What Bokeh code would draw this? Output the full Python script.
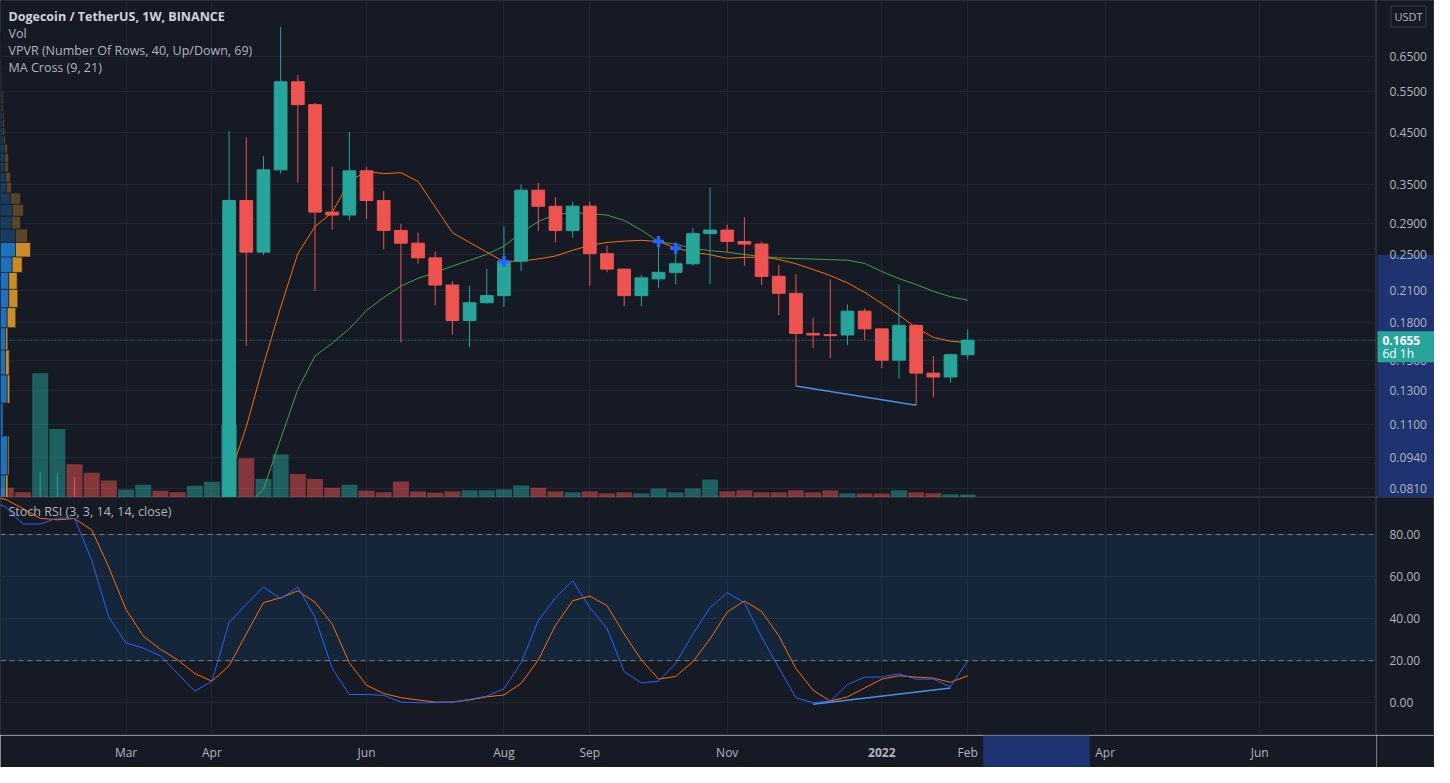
import math
from bokeh.plotting import figure
from bokeh.models import (Range1d, FixedTicker, Span, BoxAnnotation, Label, ColumnDataSource, LinearScale)
from bokeh.layouts import column, row
from bokeh.core.properties import value
from bokeh.embed import file_html
from bokeh.resources import INLINE

# ---------------- data (weekly bars, index 0 = week of 12 Apr 2021) ----------------
weeks = list(range(-14, 44))
opens = [0.0047, 0.0095, 0.0087, 0.0083, 0.0348, 0.0577, 0.0560, 0.0530, 0.0505, 0.0520, 0.0580, 0.0560, 0.0540, 0.0580,
         0.0660, 0.3247, 0.2531, 0.3764, 0.5757, 0.5155, 0.3070, 0.3027, 0.3747, 0.3247, 0.2810, 0.2643, 0.2462, 0.2160,
         0.1820, 0.1983, 0.2052, 0.2423, 0.3413, 0.3157, 0.2810, 0.3160, 0.2512, 0.2332, 0.2052, 0.2225, 0.2296, 0.2393,
         0.2767, 0.2815, 0.2665, 0.2631, 0.2252, 0.2075, 0.1710, 0.1700, 0.1697, 0.1904, 0.1748, 0.1503, 0.1778, 0.1412,
         0.1386, 0.1543]
highs = [0.0107, 0.0107, 0.0099, 0.0876, 0.0874, 0.0857, 0.0665, 0.0590, 0.0540, 0.0640, 0.0630, 0.0585, 0.0640, 0.0720,
         0.4537, 0.4398, 0.4024, 0.7500, 0.5957, 0.5200, 0.3822, 0.4516, 0.3822, 0.3402, 0.2903, 0.2780, 0.2540, 0.2201,
         0.2150, 0.2335, 0.2867, 0.3510, 0.3538, 0.3298, 0.3232, 0.3232, 0.2612, 0.2335, 0.2268, 0.2677, 0.2555, 0.2845,
         0.3456, 0.2889, 0.2995, 0.2660, 0.2379, 0.2276, 0.1840, 0.2218, 0.1967, 0.1930, 0.1748, 0.2167, 0.1790, 0.1534,
         0.1550, 0.1743]
lows = [0.0047, 0.0082, 0.0074, 0.0077, 0.0264, 0.0512, 0.0500, 0.0405, 0.0460, 0.0495, 0.0525, 0.0510, 0.0520, 0.0560,
        0.0610, 0.1610, 0.2497, 0.3700, 0.3540, 0.2100, 0.2822, 0.2949, 0.2967, 0.2564, 0.1637, 0.2396, 0.1958, 0.1702,
        0.1600, 0.1970, 0.1943, 0.2314, 0.2800, 0.2652, 0.2715, 0.2149, 0.2298, 0.1949, 0.1949, 0.2133, 0.2167, 0.2370,
        0.2173, 0.2531, 0.2370, 0.2160, 0.1869, 0.1327, 0.1593, 0.1519, 0.1617, 0.1658, 0.1446, 0.1375, 0.1209, 0.1257,
        0.1348, 0.1509]
closes = [0.0095, 0.0087, 0.0083, 0.0348, 0.0577, 0.0560, 0.0530, 0.0505, 0.0520, 0.0580, 0.0560, 0.0540, 0.0580, 0.0660,
          0.3247, 0.2531, 0.3764, 0.5757, 0.5155, 0.3070, 0.3027, 0.3747, 0.3247, 0.2810, 0.2643, 0.2462, 0.2160, 0.1820,
          0.1983, 0.2052, 0.2423, 0.3413, 0.3157, 0.2810, 0.3160, 0.2512, 0.2332, 0.2052, 0.2236, 0.2296, 0.2393, 0.2767,
          0.2815, 0.2665, 0.2631, 0.2252, 0.2075, 0.1710, 0.1697, 0.1692, 0.1904, 0.1748, 0.1503, 0.1778, 0.1412, 0.1386,
          0.1543, 0.1655]
# volume, billions DOGE
volume = [0.30, 1.00, 0.53, 12.70, 7.00, 3.40, 2.53, 1.73, 0.83, 1.30, 0.70, 0.53, 1.20, 1.60,
          7.43, 4.00, 1.90, 4.40, 2.40, 1.90, 1.00, 1.30, 0.70, 0.53, 1.63, 0.63, 0.50, 0.63,
          0.73, 0.73, 0.83, 1.23, 1.00, 0.63, 0.53, 0.63, 0.43, 0.53, 0.43, 0.93, 0.53, 0.93,
          1.83, 0.63, 0.73, 0.53, 0.53, 0.73, 0.53, 0.73, 0.43, 0.40, 0.40, 0.73, 0.53, 0.43,
          0.33, 0.30]
NA = float("nan")
ma9 = [NA] * 13 + [0.0560, 0.0853, 0.1090, 0.1470, 0.1940, 0.2514, 0.2863, 0.3065, 0.3560, 0.3738, 0.3696, 0.3713,
                   0.3560, 0.3147, 0.2780, 0.2652, 0.2531, 0.2418, 0.2424, 0.2450, 0.2484, 0.2554, 0.2614, 0.2652,
                   0.2669, 0.2679, 0.2664, 0.2580, 0.2531, 0.2500, 0.2456, 0.2467, 0.2473, 0.2443, 0.2393, 0.2328,
                   0.2260, 0.2183, 0.2085, 0.1976, 0.1869, 0.1758, 0.1678, 0.1647, 0.1636]
ma21 = [NA] * 15 + [0.0745, 0.0806, 0.1028, 0.1306, 0.1534, 0.1631, 0.1749, 0.1911, 0.2033, 0.2149, 0.2230, 0.2296,
                    0.2366, 0.2433, 0.2504, 0.2605, 0.2778, 0.2935, 0.3034, 0.3062, 0.3048, 0.3026, 0.2949, 0.2814,
                    0.2664, 0.2627, 0.2579, 0.2549, 0.2531, 0.2502, 0.2479, 0.2462, 0.2454, 0.2448, 0.2441, 0.2435,
                    0.2397, 0.2306, 0.2227, 0.2165, 0.2095, 0.2041, 0.2007]
cross_weeks = [16, 25, 26]
price_trend_weeks = [33, 40]

stoch_k = [97.0, 93.0, 85.0, 85.0, 87.8, 87.7, 67.7, 40.6, 28.4, 26.0, 22.3, 13.9, 5.5, 10.2,
           38.2, 46.8, 55.0, 49.5, 55.0, 40.6, 16.4, 3.9, 3.9, 3.5, 0.3, 0.0, 0.0, 0.3,
           1.6, 3.1, 6.6, 19.0, 39.0, 49.9, 58.0, 45.2, 35.4, 14.8, 9.4, 10.2, 18.8, 32.6,
           45.2, 52.3, 47.6, 31.2, 16.7, 2.3, 0.0, 0.8, 8.6, 12.2, 12.2, 13.7, 11.2, 11.2,
           7.6, 20.0]
stoch_d = [98.0, 96.7, 92.3, 87.7, 87.0, 87.6, 82.2, 64.4, 44.3, 31.7, 25.4, 20.4, 13.9, 10.2,
           17.6, 32.7, 47.6, 49.9, 53.2, 47.8, 37.4, 19.0, 8.3, 4.4, 2.4, 1.3, 0.3, 0.3,
           1.3, 2.8, 3.7, 9.2, 20.3, 36.8, 48.5, 50.7, 46.2, 32.7, 20.4, 11.2, 12.5, 19.5,
           30.3, 43.1, 48.4, 43.4, 31.9, 16.2, 5.9, 0.8, 2.8, 7.0, 11.2, 12.8, 12.2, 11.7,
           9.7, 12.8]
stoch_trend_weeks = [34, 42]
stoch_trend_vals = [-0.7, 7.0]

# VPVR: 40 rows (linear price bins), up / down volume per row
vp_lo, vp_step, vp_rows = 0.0149, 0.01788, 40
vp_up = [3000, 12000, 21000, 500, 700, 270, 670, 500, 500, 670, 830, 830, 1170, 1500,
         1500, 1100, 1200, 1000, 600, 500, 400, 400, 400, 300, 200, 200, 200, 150, 150, 150,
         100, 100, 80, 80, 80, 50, 50, 50, 30, 30]
vp_down = [3000, 12000, 20300, 250, 150, 30, 260, 370, 230, 860, 900, 840, 1000, 1500,
           1200, 900, 1100, 1000, 500, 500, 400, 400, 300, 200, 200, 200, 150, 150, 150, 150,
           100, 100, 70, 70, 70, 50, 50, 50, 20, 20]
vp_value_area_top_row = 13

price_ticks = [0.081, 0.094, 0.11, 0.13, 0.15, 0.18, 0.21, 0.25, 0.29, 0.35, 0.45, 0.55, 0.65]
stoch_ticks = [0, 20, 40, 60, 80]
time_tick_weeks = [-6, -1, 8, 16, 21, 29, 38, 43, 51, 60]
time_tick_labels = ["Mar", "Apr", "Jun", "Aug", "Sep", "Nov", "2022", "Feb", "Apr", "Jun"]
highlight_weeks = (43.9, 50.1)
highlight_price = 0.25
countdown = "6d 1h"

# ---------------- style ----------------
BG = "#161a25"
GRID = "#222632"
SEP = "#2a2e39"
TXT = "#b2b5be"
UP = "#26a69a"
DOWN = "#ef5350"
HL = "#1e3370"
FONT = value("Open Sans")
FRAME_W, AXIS_W = 1376, 58
P_H = 497
S_FRAME, S_AX = 238, 32

x_range = Range1d(-13.31, 66.8)
p_lo, p_hi = 0.0775, 0.852
price_range = Range1d(p_lo, p_hi)
stoch_range = Range1d(-15.6, 97.6)


def base(width, height, xr, yr, y_type="linear", outline=SEP):
    f = figure(width=width, height=height, x_range=xr, y_range=yr, y_axis_type=y_type,
               x_axis_location=None, y_axis_location=None, output_backend="svg", toolbar_location=None,
               min_border=0, background_fill_color=BG, border_fill_color=BG, outline_line_color=outline)
    return f


# ---------------- price pane ----------------
p = base(FRAME_W, P_H, x_range, price_range, "log")
p.extra_y_ranges = {"vol": Range1d(0, max(volume) * 4)}
p.extra_y_scales = {"vol": LinearScale()}
vp_tot = [u + d for u, d in zip(vp_up, vp_down)]
p.extra_x_ranges = {"vp": Range1d(0, max(vp_tot) / 0.30)}
p.extra_x_scales = {"vp": LinearScale()}
p.xgrid.ticker = FixedTicker(ticks=time_tick_weeks)
p.ygrid.ticker = FixedTicker(ticks=price_ticks)
p.xgrid.grid_line_color = GRID
p.ygrid.grid_line_color = GRID

colors = [UP if c >= o else DOWN for o, c in zip(opens, closes)]
src = ColumnDataSource(dict(
    week=weeks, open=opens, high=highs, low=lows, close=closes, vol=volume, color=colors,
    top=[max(o, c) for o, c in zip(opens, closes)], bot=[min(o, c) for o, c in zip(opens, closes)],
    ma9=ma9, ma21=ma21))

p.vbar(x="week", top="vol", bottom=0, width=0.93, source=src, y_range_name="vol",
       fill_color="color", line_color=None, fill_alpha=0.5)

rb = [vp_lo + k * vp_step for k in range(vp_rows)]
rt = [vp_lo + (k + 1) * vp_step for k in range(vp_rows)]
ua = [0.8 if k <= vp_value_area_top_row else 0.3 for k in range(vp_rows)]
p.quad(left=0, right=vp_up, bottom=rb, top=rt, x_range_name="vp",
       fill_color="#1e88e5", fill_alpha=ua, line_color=BG, line_width=0.6)
p.quad(left=vp_up, right=vp_tot, bottom=rb, top=rt, x_range_name="vp",
       fill_color="#f9a825", fill_alpha=ua, line_color=BG, line_width=0.6)

p.line("week", "ma21", source=src, line_color="#43a047", line_width=1)
p.line("week", "ma9", source=src, line_color="#ff6d00", line_width=1)

p.segment(x0="week", y0="low", x1="week", y1="high", source=src, line_color="color", line_width=1)
p.vbar(x="week", top="top", bottom="bot", width=0.74, source=src, fill_color="color", line_color="color")

p.scatter(cross_weeks, [ma9[weeks.index(w)] for w in cross_weeks], marker="cross", size=11,
          line_width=3.5, line_color="#2962ff")
p.line(price_trend_weeks, [lows[weeks.index(w)] for w in price_trend_weeks],
       line_color="#4a90e2", line_width=1.5)
p.add_layout(Span(location=closes[-1], dimension="width", line_color=UP, line_dash="1 2", line_width=1))

legend_lines = ["Dogecoin / TetherUS, 1W, BINANCE", "Vol", "VPVR (Number Of Rows, 40, Up/Down, 69)", "MA Cross (9, 21)"]
for n, t in enumerate(legend_lines):
    p.add_layout(Label(x=8, y=P_H - 16 - 17 * n, x_units="screen", y_units="screen", text=t,
                       text_color="#d1d4dc" if n == 0 else TXT, text_font="Open Sans",
                       text_font_size="12.5px", text_font_style="bold" if n == 0 else "normal",
                       text_baseline="middle"))

# ---------------- price axis strip ----------------
def py(v):
    return P_H * (math.log(v) - math.log(p_lo)) / (math.log(p_hi) - math.log(p_lo))

pa = base(AXIS_W, P_H, Range1d(0, AXIS_W), price_range, "log")
pa.grid.visible = False
pa.extra_y_ranges = {"px": Range1d(0, P_H)}
pa.extra_y_scales = {"px": LinearScale()}
pa.quad(left=1, right=AXIS_W, bottom=p_lo, top=highlight_price, fill_color=HL, line_color=None)
pa.text(x=13, y=price_ticks, text=["%.4f" % t for t in price_ticks], text_font=FONT, text_font_size="12px",
        text_color=TXT, text_baseline="middle", text_align="left")
yc = py(closes[-1])
pa.quad(left=1, right=AXIS_W, bottom=yc - 22, top=yc + 9, y_range_name="px", fill_color=UP, line_color=None)
pa.text(x=[6], y=[yc], text=["%.4f" % closes[-1]], y_range_name="px", text_font=FONT, text_font_size="12px",
        text_font_style="bold", text_color="white", text_baseline="middle", text_align="left")
pa.text(x=[6], y=[yc - 13], text=[countdown], y_range_name="px", text_font=FONT, text_font_size="12px",
        text_color="white", text_baseline="middle", text_align="left")
pa.rect(x=[32], y=[P_H - 16], width=35, height=21, y_range_name="px", fill_color=BG,
        line_color="#363a45", line_width=1)
pa.text(x=[32], y=[P_H - 16], text=["USDT"], y_range_name="px", text_font=FONT, text_font_size="11px",
        text_color=TXT, text_baseline="middle", text_align="center")

# ---------------- Stoch RSI pane ----------------
s = base(FRAME_W, S_FRAME, x_range, stoch_range)
s.xgrid.ticker = FixedTicker(ticks=time_tick_weeks)
s.ygrid.ticker = FixedTicker(ticks=stoch_ticks)
s.xgrid.grid_line_color = GRID
s.ygrid.grid_line_color = GRID
s.add_layout(BoxAnnotation(bottom=20, top=80, fill_color="#2196f3", fill_alpha=0.1, line_color=None,
                           level="underlay"))
for lv in (80, 20):
    s.add_layout(Span(location=lv, dimension="width", line_color="#787b86", line_dash="5 4", line_width=1))
s.line(weeks, stoch_d, line_color="#ff6d00", line_width=1)
s.line(weeks, stoch_k, line_color="#2962ff", line_width=1)
s.line(stoch_trend_weeks, stoch_trend_vals, line_color="#4a90e2", line_width=1.5)
s.add_layout(Label(x=8, y=S_FRAME - 14, x_units="screen", y_units="screen", text="Stoch RSI (3, 3, 14, 14, close)",
                   text_color=TXT, text_font="Open Sans", text_font_size="12.5px", text_baseline="middle"))

sa = base(AXIS_W, S_FRAME, Range1d(0, AXIS_W), stoch_range)
sa.grid.visible = False
sa.text(x=13, y=stoch_ticks, text=["%.2f" % t for t in stoch_ticks], text_font=FONT, text_font_size="12px",
        text_color=TXT, text_baseline="middle", text_align="left")

# ---------------- time axis strip ----------------
ta = base(FRAME_W, S_AX, x_range, Range1d(0, S_AX), outline=None)
ta.grid.visible = False
ta.quad(left=highlight_weeks[0], right=highlight_weeks[1], bottom=0, top=S_AX, fill_color=HL, line_color=None)
norm = [(w, l) for w, l in zip(time_tick_weeks, time_tick_labels) if not l.isdigit()]
yrs = [(w, l) for w, l in zip(time_tick_weeks, time_tick_labels) if l.isdigit()]
ta.text(x=[w for w, _ in norm], y=15, text=[l for _, l in norm], text_font=FONT, text_font_size="12px",
        text_color=TXT, text_baseline="middle", text_align="center")
ta.text(x=[w for w, _ in yrs], y=15, text=[l for _, l in yrs], text_font=FONT, text_font_size="12px",
        text_font_style="bold", text_color=TXT, text_baseline="middle", text_align="center")

ca = base(AXIS_W, S_AX, Range1d(0, AXIS_W), Range1d(0, S_AX), outline=None)
ca.grid.visible = False
ca.quad(left=0, right=1, bottom=0, top=S_AX, fill_color=SEP, line_color=None)

layout = column(row(p, pa, spacing=0), row(s, sa, spacing=0), row(ta, ca, spacing=0), spacing=0)
open("out.html", "w").write(file_html(layout, INLINE))
